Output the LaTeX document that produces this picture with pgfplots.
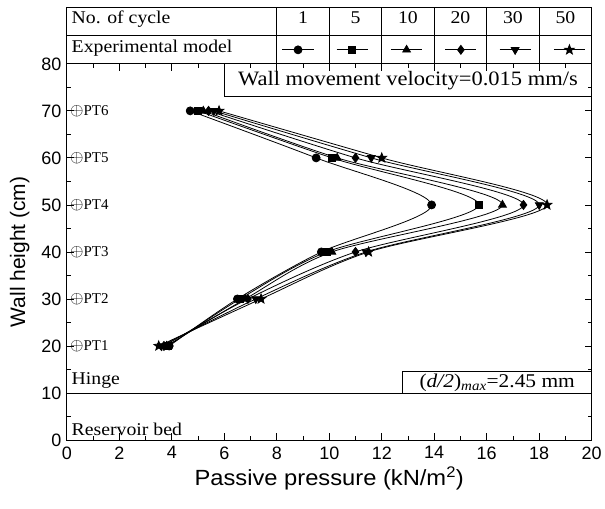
\documentclass[border=0pt]{standalone}
\usepackage{pgfplots}
\pgfplotsset{compat=1.18}
\usepackage{fontspec}
\setmainfont{Liberation Serif}
\setsansfont{Liberation Sans}
\newfontfamily\wideserif{Liberation Serif}[FakeStretch=1.1]
\newfontfamily\widesans{Liberation Sans}[FakeStretch=1.08]
\newcommand\tabfont{\wideserif\fontsize{18}{21}\selectfont}
\newcommand\velfont{\wideserif\fontsize{20.5}{23}\selectfont}
\newcommand\dfont{\wideserif\fontsize{19.5}{22}\selectfont}
\newcommand\ptfont{\rmfamily\fontsize{15}{17}\selectfont}
\newcommand\op{{\fontsize{16}{16}\selectfont$\oplus$}}
\pgfdeclareplotmark{fstar}{%
  \pgfpathmoveto{\pgfqpointpolar{90}{\pgfplotmarksize}}%
  \pgfpathlineto{\pgfqpointpolar{126}{0.42\pgfplotmarksize}}%
  \pgfpathlineto{\pgfqpointpolar{162}{\pgfplotmarksize}}%
  \pgfpathlineto{\pgfqpointpolar{198}{0.42\pgfplotmarksize}}%
  \pgfpathlineto{\pgfqpointpolar{234}{\pgfplotmarksize}}%
  \pgfpathlineto{\pgfqpointpolar{270}{0.42\pgfplotmarksize}}%
  \pgfpathlineto{\pgfqpointpolar{306}{\pgfplotmarksize}}%
  \pgfpathlineto{\pgfqpointpolar{342}{0.42\pgfplotmarksize}}%
  \pgfpathlineto{\pgfqpointpolar{18}{\pgfplotmarksize}}%
  \pgfpathlineto{\pgfqpointpolar{54}{0.42\pgfplotmarksize}}%
  \pgfpathclose\pgfusepathqfillstroke}
\begin{document}
\begin{tikzpicture}
\begin{axis}[name=ax,
  scale only axis, width=526pt, height=377pt,
  xmin=0, xmax=20, ymin=0, ymax=80,
  xtick={0,2,...,20}, ytick={0,10,...,80},
  minor x tick num=1, minor y tick num=1,
  tick align=inside, major tick length=7pt, minor tick length=4pt,
  axis line style={line width=0.9pt},
  every tick/.style={black, line width=0.8pt},
  /pgf/number format/assume math mode=true,
  tick label style={font=\sffamily\fontsize{18}{18}\selectfont},
  xticklabel style={yshift=-3pt},
  yticklabel style={xshift=-2pt},
  xlabel={Passive pressure (kN/m\textsuperscript{2})},
  ylabel={Wall height (cm)},
  xlabel style={font=\widesans\fontsize{22}{22}\selectfont},
  ylabel style={font=\sffamily\fontsize{21}{21}\selectfont},
  xlabel shift=1pt,
  ylabel shift=5pt,
  clip=false,
  every axis plot/.append style={black, line width=0.8pt, smooth, mark options={solid, fill=black}},
  legend image code/.code={\draw[mark repeat=2,mark phase=2] plot coordinates {(-0.55cm,0cm) (0cm,0cm) (0.55cm,0cm)};},
  legend style={at={(0.7,1.0379)}, anchor=center, draw=none, fill=none,
    legend columns=6, column sep=0pt, nodes={inner sep=0pt},
    /tikz/every even column/.append style={column sep=21.3pt}},
]
\addplot[mark=*, mark size=4pt] coordinates {(3.9,20) (6.5,30) (9.7,40) (13.9,50) (9.5,60) (4.7,70)};
\addplot[mark=square*, mark size=3.5pt] coordinates {(3.85,20) (6.6,30) (9.9,40) (15.7,50) (10.1,60) (5.0,70)};
\addplot[mark=triangle*, mark size=4.5pt] coordinates {(3.8,20) (6.8,30) (10.1,40) (16.6,50) (10.3,60) (5.2,70)};
\addplot[mark=diamond*, mark size=4.5pt] coordinates {(3.7,20) (6.9,30) (11.0,40) (17.4,50) (11.0,60) (5.4,70)};
\addplot[mark=triangle*, mark size=4.5pt, mark options={rotate=180}] coordinates {(3.6,20) (7.2,30) (11.4,40) (18.0,50) (11.6,60) (5.6,70)};
\addplot[mark=fstar, mark size=5pt] coordinates {(3.5,20) (7.4,30) (11.5,40) (18.3,50) (12.0,60) (5.8,70)};
\legend{\mbox{},\mbox{},\mbox{},\mbox{},\mbox{},\mbox{}}

% header table
\draw[line width=0.9pt] (axis cs:0,80) rectangle (axis cs:20,92.1);
\draw[line width=0.8pt] (axis cs:0,86.05) -- (axis cs:20,86.05);
\draw[line width=0.8pt] (axis cs:8,80) -- (axis cs:8,92.1);
\draw[line width=0.8pt] (axis cs:10,80) -- (axis cs:10,92.1);
\draw[line width=0.8pt] (axis cs:12,80) -- (axis cs:12,92.1);
\draw[line width=0.8pt] (axis cs:14,80) -- (axis cs:14,92.1);
\draw[line width=0.8pt] (axis cs:16,80) -- (axis cs:16,92.1);
\draw[line width=0.8pt] (axis cs:18,80) -- (axis cs:18,92.1);
\node[anchor=west, font=\tabfont, text height=1.6ex, text depth=0.4ex] at (axis cs:0.05,89.08) {No. of cycle};
\node[font=\tabfont, text height=1.6ex, text depth=0.4ex] at (axis cs:9,89.08) {1};
\node[font=\tabfont, text height=1.6ex, text depth=0.4ex] at (axis cs:11,89.08) {5};
\node[font=\tabfont, text height=1.6ex, text depth=0.4ex] at (axis cs:13,89.08) {10};
\node[font=\tabfont, text height=1.6ex, text depth=0.4ex] at (axis cs:15,89.08) {20};
\node[font=\tabfont, text height=1.6ex, text depth=0.4ex] at (axis cs:17,89.08) {30};
\node[font=\tabfont, text height=1.6ex, text depth=0.4ex] at (axis cs:19,89.08) {50};
\node[anchor=west, font=\tabfont, text height=1.6ex, text depth=0.4ex] at (axis cs:0.05,83.03) {Experimental model};

% velocity box
\draw[line width=0.8pt] (axis cs:6,80) rectangle (axis cs:20,73);
\node[font=\velfont] at (axis cs:13,76.5) {Wall movement velocity=0.015 mm/s};

% hinge
\draw[line width=0.9pt] (axis cs:0,10) -- (axis cs:20,10);
\draw[line width=0.8pt] (axis cs:12.8,10) rectangle (axis cs:20,14.5);
\node[font=\dfont] at (axis cs:16.4,12.25) {(\textit{d/2})\textsubscript{\textit{max}}=2.45 mm};
\node[anchor=west, font=\tabfont] at (axis cs:0.05,12.6) {Hinge};
\node[anchor=west, font=\tabfont] at (axis cs:0.05,2.3) {Reservoir bed};

% pressure transducers
\node[anchor=west, font=\ptfont, inner sep=0pt] at (axis cs:0.12,70) {\op PT6};
\node[anchor=west, font=\ptfont, inner sep=0pt] at (axis cs:0.12,60) {\op PT5};
\node[anchor=west, font=\ptfont, inner sep=0pt] at (axis cs:0.12,50) {\op PT4};
\node[anchor=west, font=\ptfont, inner sep=0pt] at (axis cs:0.12,40) {\op PT3};
\node[anchor=west, font=\ptfont, inner sep=0pt] at (axis cs:0.12,30) {\op PT2};
\node[anchor=west, font=\ptfont, inner sep=0pt] at (axis cs:0.12,20) {\op PT1};
\end{axis}
\path (ax.south west) ++(-67pt,-69pt) coordinate (bbA);
\path (ax.north west) ++(538pt,64pt) coordinate (bbB);
\end{tikzpicture}
\end{document}
